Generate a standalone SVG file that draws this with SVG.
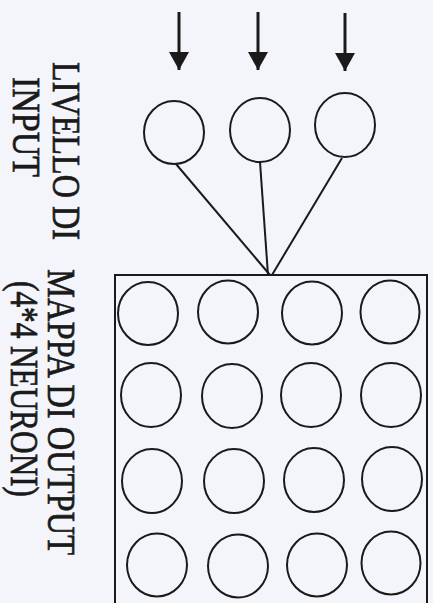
<svg xmlns="http://www.w3.org/2000/svg" width="433" height="603" viewBox="0 0 433 603">
  <defs>
    <style>
      .bg { fill: #f3f5fb; }
      .neuron { fill: none; stroke: #1a1a1a; stroke-width: 2; }
      .edge { fill: none; stroke: #1a1a1a; stroke-width: 2; }
      .shaft { fill: none; stroke: #1a1a1a; stroke-width: 3; }
      .box { fill: none; stroke: #1a1a1a; stroke-width: 2; }
      .label { font-family: "Liberation Serif", "Times New Roman", serif; font-size: 39px; fill: #1a1a1a; stroke: #1a1a1a; stroke-width: 0.7px; }
    </style>
    <marker id="arrowhead" markerUnits="userSpaceOnUse" markerWidth="18" markerHeight="20" refX="18" refY="10" orient="auto" viewBox="0 0 18 20">
      <polygon points="0,0 18,10 0,20" fill="#1a1a1a"/>
    </marker>
  </defs>
  <rect class="bg" x="0" y="0" width="433" height="603"/>

  <g id="labels">
    <text class="label" transform="translate(53,62) rotate(90)" textLength="178" lengthAdjust="spacingAndGlyphs">LIVELLO DI</text>
    <text class="label" transform="translate(13,77) rotate(90)" textLength="100" lengthAdjust="spacingAndGlyphs">INPUT</text>
    <text class="label" transform="translate(48,269) rotate(90)" textLength="286" lengthAdjust="spacingAndGlyphs">MAPPA DI OUTPUT</text>
    <text class="label" transform="translate(11,281) rotate(90)" textLength="216" lengthAdjust="spacingAndGlyphs">(4*4 NEURONI)</text>
  </g>

  <g id="connectors">
    <line class="shaft" x1="179" y1="12" x2="179" y2="70" marker-end="url(#arrowhead)"/>
    <line class="shaft" x1="258" y1="12" x2="258" y2="70" marker-end="url(#arrowhead)"/>
    <line class="shaft" x1="345" y1="13" x2="345" y2="71" marker-end="url(#arrowhead)"/>
    <line class="edge" x1="176" y1="164" x2="270" y2="275"/>
    <line class="edge" x1="260" y1="162" x2="268" y2="275"/>
    <line class="edge" x1="342" y1="158" x2="272" y2="275"/>
  </g>

  <g id="input-1"><ellipse class="neuron" cx="174" cy="132.5" rx="30" ry="31.5"/></g>
  <g id="input-2"><ellipse class="neuron" cx="260" cy="130" rx="30" ry="32"/></g>
  <g id="input-3"><ellipse class="neuron" cx="345" cy="125" rx="30" ry="32"/></g>

  <g id="output-map">
    <polyline class="box" points="115,603 115,275 427,275 427,603"/>
  </g>

  <g id="out-1-1"><ellipse class="neuron" cx="148" cy="313.5" rx="30" ry="31.5"/></g>
  <g id="out-1-2"><ellipse class="neuron" cx="228" cy="312" rx="30" ry="31.5"/></g>
  <g id="out-1-3"><ellipse class="neuron" cx="312" cy="313" rx="30" ry="31.5"/></g>
  <g id="out-1-4"><ellipse class="neuron" cx="390" cy="312" rx="29.5" ry="31.5"/></g>

  <g id="out-2-1"><ellipse class="neuron" cx="151" cy="395" rx="30" ry="32"/></g>
  <g id="out-2-2"><ellipse class="neuron" cx="232" cy="396" rx="30" ry="32"/></g>
  <g id="out-2-3"><ellipse class="neuron" cx="311" cy="395" rx="30" ry="32"/></g>
  <g id="out-2-4"><ellipse class="neuron" cx="391" cy="395" rx="30" ry="32"/></g>

  <g id="out-3-1"><ellipse class="neuron" cx="152" cy="481" rx="30" ry="32"/></g>
  <g id="out-3-2"><ellipse class="neuron" cx="234" cy="481" rx="30" ry="32"/></g>
  <g id="out-3-3"><ellipse class="neuron" cx="314" cy="480" rx="30" ry="32"/></g>
  <g id="out-3-4"><ellipse class="neuron" cx="392" cy="479" rx="30" ry="32"/></g>

  <g id="out-4-1"><ellipse class="neuron" cx="157" cy="565" rx="30" ry="31.5"/></g>
  <g id="out-4-2"><ellipse class="neuron" cx="238" cy="566" rx="30" ry="31.5"/></g>
  <g id="out-4-3"><ellipse class="neuron" cx="317" cy="565" rx="30" ry="31.5"/></g>
  <g id="out-4-4"><ellipse class="neuron" cx="391" cy="563" rx="29.5" ry="31.5"/></g>
</svg>
